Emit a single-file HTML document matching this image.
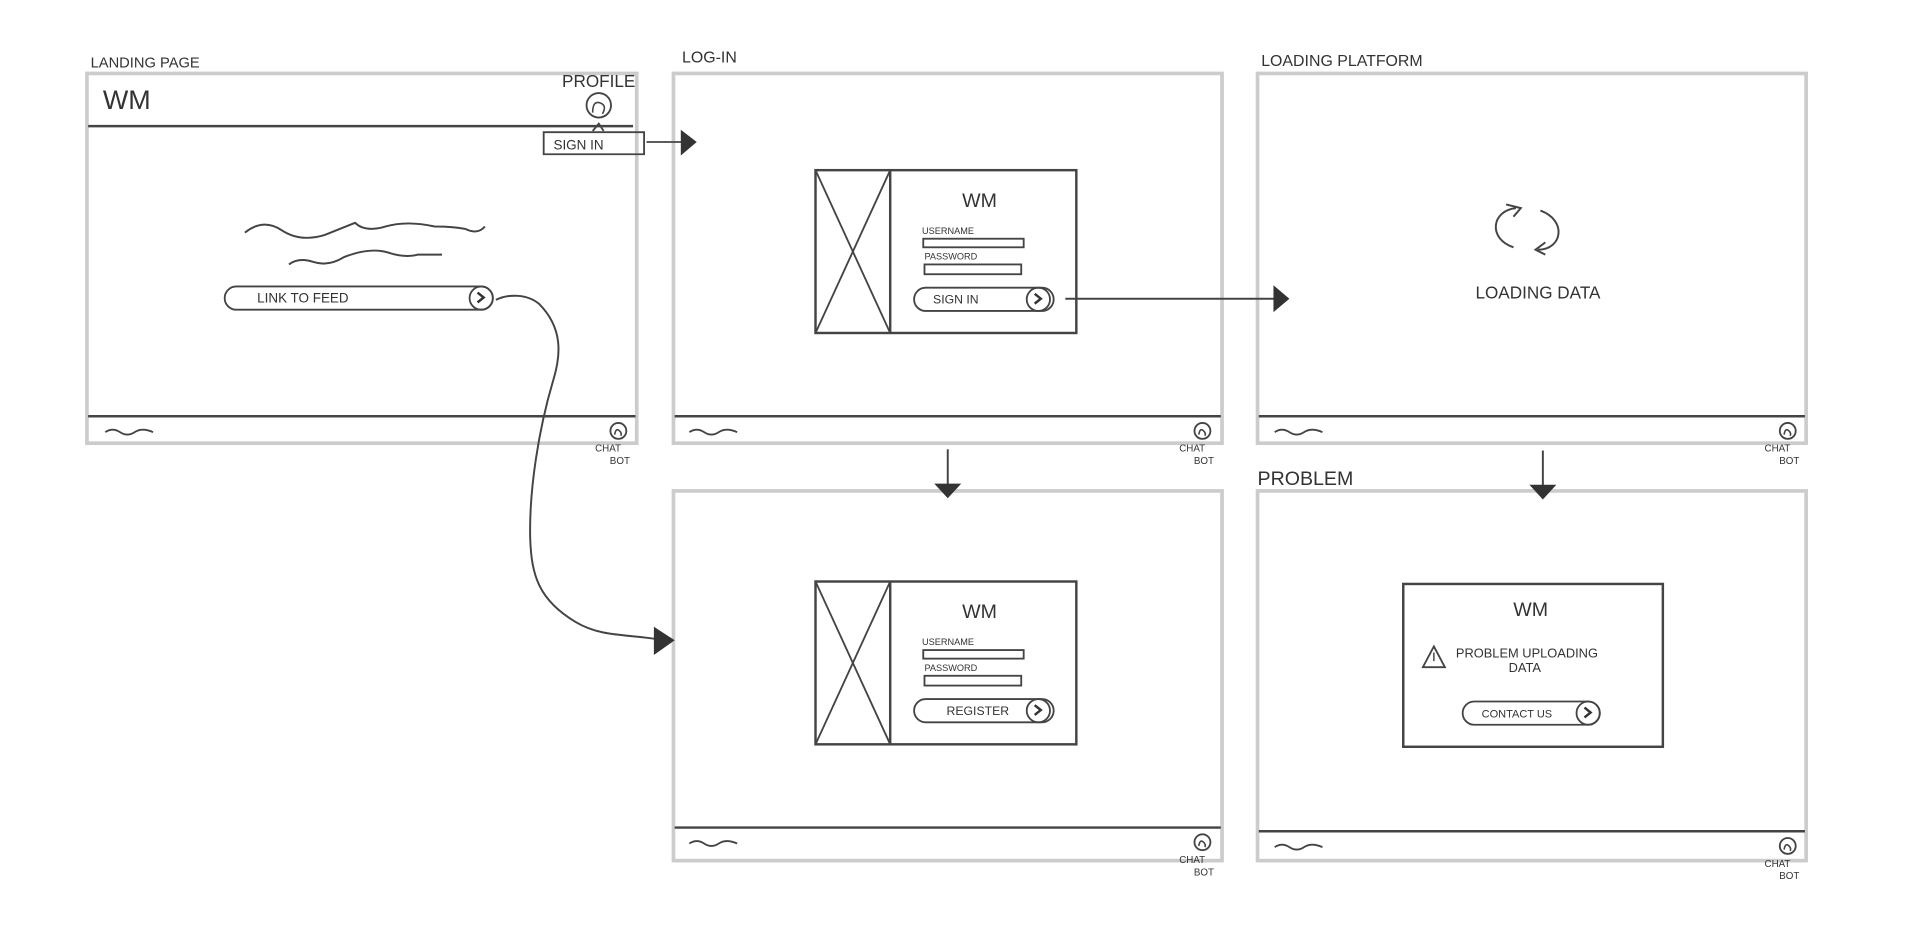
<!DOCTYPE html>
<html><head><meta charset="utf-8"><style>
html,body{margin:0;padding:0;background:#fff;width:1920px;height:950px;overflow:hidden}
svg{display:block}
text{font-family:"Liberation Sans",sans-serif;fill:#333}
</style></head><body>
<svg width="1920" height="950" viewBox="0 0 1568 776" preserveAspectRatio="none" xmlns="http://www.w3.org/2000/svg">
<defs>
<g id="foot">
<path d="M15 13 q6 -4 12 0 t12 0 t15 0" fill="none" stroke="#444" stroke-width="1.5"/>
</g>
<g id="chat">
<circle cx="0" cy="0" r="6.5" fill="none" stroke="#444" stroke-width="1.5"/>
<path d="M-3 3 q1 -6 4 -3 q2 2 1 4" fill="none" stroke="#444" stroke-width="1.3"/>
<text x="-19" y="17" font-size="8">CHAT</text>
<text x="-7" y="27" font-size="8">BOT</text>
</g>
<g id="loginbox">
<rect x="0" y="0" width="213" height="133" fill="none" stroke="#444" stroke-width="2"/>
<line x1="61" y1="0" x2="61" y2="133" stroke="#444" stroke-width="2"/>
<line x1="0" y1="0" x2="61" y2="133" stroke="#444" stroke-width="1.5"/>
<line x1="61" y1="0" x2="0" y2="133" stroke="#444" stroke-width="1.5"/>
<text x="134" y="30" font-size="16" text-anchor="middle">WM</text>
<text x="87" y="52" font-size="7.5">USERNAME</text>
<rect x="88" y="56" width="82" height="7" fill="none" stroke="#444" stroke-width="1.5"/>
<text x="89" y="73" font-size="7.5">PASSWORD</text>
<rect x="89" y="77" width="79" height="8" fill="none" stroke="#444" stroke-width="1.5"/>
<path d="M90 96 H185 a9.5 9.5 0 0 1 0 19 H90 a9.5 9.5 0 0 1 0 -19z" fill="none" stroke="#444" stroke-width="1.5"/>
<circle cx="182" cy="105.5" r="9.5" fill="none" stroke="#444" stroke-width="1.5"/>
<path d="M179 101 l5 4 l-5 4" fill="none" stroke="#333" stroke-width="2"/>
</g>
</defs>

<!-- frame labels -->
<text x="74" y="55" font-size="12">LANDING PAGE</text>
<text x="557" y="51" font-size="13">LOG-IN</text>
<text x="1030" y="54" font-size="13">LOADING  PLATFORM</text>
<text x="1027" y="396" font-size="16">PROBLEM</text>

<!-- frames -->
<g fill="none" stroke="#ccc" stroke-width="3">
<rect x="71" y="60" width="449" height="302"/>
<rect x="550" y="60" width="448" height="302"/>
<rect x="1027" y="60" width="448" height="302"/>
<rect x="550" y="401" width="448" height="302"/>
<rect x="1027" y="401" width="448" height="302"/>
</g>
<g stroke="#444" stroke-width="2">
<line x1="72" y1="340" x2="519" y2="340"/>
<line x1="551" y1="340" x2="997" y2="340"/>
<line x1="1028" y1="340" x2="1474" y2="340"/>
<line x1="551" y1="676" x2="997" y2="676"/>
<line x1="1028" y1="679" x2="1474" y2="679"/>
<line x1="72" y1="103" x2="517" y2="103"/>
</g>
<use href="#foot" x="71" y="340"/>
<use href="#foot" x="548" y="340"/>
<use href="#foot" x="1026" y="340"/>
<use href="#foot" x="548" y="676"/>
<use href="#foot" x="1026" y="679"/>
<use href="#chat" x="505" y="352"/>
<use href="#chat" x="982" y="352"/>
<use href="#chat" x="1460" y="352"/>
<use href="#chat" x="982" y="688"/>
<use href="#chat" x="1460" y="691"/>

<!-- landing page -->
<text x="84" y="89" font-size="22">WM</text>
<text x="459" y="71" font-size="14">PROFILE</text>
<circle cx="489" cy="86" r="10" fill="none" stroke="#444" stroke-width="1.5"/>
<path d="M484 92 q0 -10 6 -8 q6 2 2 9" fill="none" stroke="#444" stroke-width="1.3"/>
<path d="M484 107 l5 -6 l4 6" fill="none" stroke="#444" stroke-width="1.5"/>
<path d="M444 108 H526 V126 H444 Z" fill="none" stroke="#444" stroke-width="1.5"/>
<text x="452" y="122" font-size="11">SIGN  IN</text>
<line x1="528" y1="116" x2="557" y2="116" stroke="#444" stroke-width="1.5"/>
<path d="M556 106 L569 116 L556 127Z" fill="#333"/>
<path d="M200 190 q15 -12 30 -2 t35 4 q15 -6 25 -10 q8 8 25 3 t40 0 q15 0 25 2 q10 5 16 -2" fill="none" stroke="#444" stroke-width="1.6"/>
<path d="M236 216 q8 -6 20 -2 t25 -4 q20 -8 35 -4 q15 5 25 2 h20" fill="none" stroke="#444" stroke-width="1.6"/>
<path d="M193 234 H393 a9.5 9.5 0 0 1 0 19 H193 a9 9 0 0 1 0 -19z" fill="none" stroke="#444" stroke-width="1.5"/>
<circle cx="393" cy="243.5" r="9.5" fill="none" stroke="#444" stroke-width="1.5"/>
<path d="M390 239 l5 4 l-5 4" fill="none" stroke="#333" stroke-width="2"/>
<text x="210" y="247" font-size="11">LINK  TO  FEED</text>
<path d="M405 245 C415 240 430 240 440 248 C460 268 458 290 452 310 C440 350 432 400 433 440 C434 470 440 490 470 508 C490 520 510 518 536 522" fill="none" stroke="#444" stroke-width="1.6"/>
<path d="M534 512 L551 523 L534 535Z" fill="#333"/>

<!-- login -->
<use href="#loginbox" x="666" y="139"/>
<text x="762" y="248" font-size="10">SIGN  IN</text>
<line x1="870" y1="244" x2="1042" y2="244" stroke="#444" stroke-width="1.6"/>
<path d="M1040 233 L1053 244 L1040 255Z" fill="#333"/>
<line x1="774" y1="367" x2="774" y2="396" stroke="#444" stroke-width="1.6"/>
<path d="M763 395 L785 395 L774 407Z" fill="#333"/>

<!-- register -->
<use href="#loginbox" x="666" y="475"/>
<text x="773" y="584" font-size="10">REGISTER</text>

<!-- loading -->
<path d="M1236 202 C1215 195 1218 172 1238 170" fill="none" stroke="#444" stroke-width="1.6"/>
<path d="M1230 167 l12 3 l-6 7" fill="none" stroke="#444" stroke-width="1.6"/>
<path d="M1258 172 C1280 180 1276 204 1256 204" fill="none" stroke="#444" stroke-width="1.6"/>
<path d="M1262 198 l-8 6 l8 4" fill="none" stroke="#444" stroke-width="1.6"/>
<text x="1256" y="244" font-size="14" text-anchor="middle">LOADING DATA</text>
<line x1="1260" y1="368" x2="1260" y2="397" stroke="#444" stroke-width="1.6"/>
<path d="M1249 396 L1271 396 L1260 408Z" fill="#333"/>

<!-- problem -->
<rect x="1146" y="477" width="212" height="133" fill="none" stroke="#444" stroke-width="2"/>
<text x="1250" y="503" font-size="16" text-anchor="middle">WM</text>
<path d="M1171 528 L1162 545 L1180 545Z" fill="none" stroke="#444" stroke-width="1.5"/>
<line x1="1171" y1="533" x2="1171" y2="540" stroke="#444" stroke-width="1.2"/>
<text x="1189" y="537" font-size="10.5">PROBLEM  UPLOADING</text>
<text x="1232" y="549" font-size="10.5">DATA</text>
<path d="M1204 573 H1297 a9.5 9.5 0 0 1 0 19 H1204 a9 9 0 0 1 0 -19z" fill="none" stroke="#444" stroke-width="1.5"/>
<circle cx="1297" cy="582.5" r="9.5" fill="none" stroke="#444" stroke-width="1.5"/>
<path d="M1294 578 l5 4 l-5 4" fill="none" stroke="#333" stroke-width="2"/>
<text x="1210" y="586" font-size="9">CONTACT  US</text>
</svg>
</body></html>
